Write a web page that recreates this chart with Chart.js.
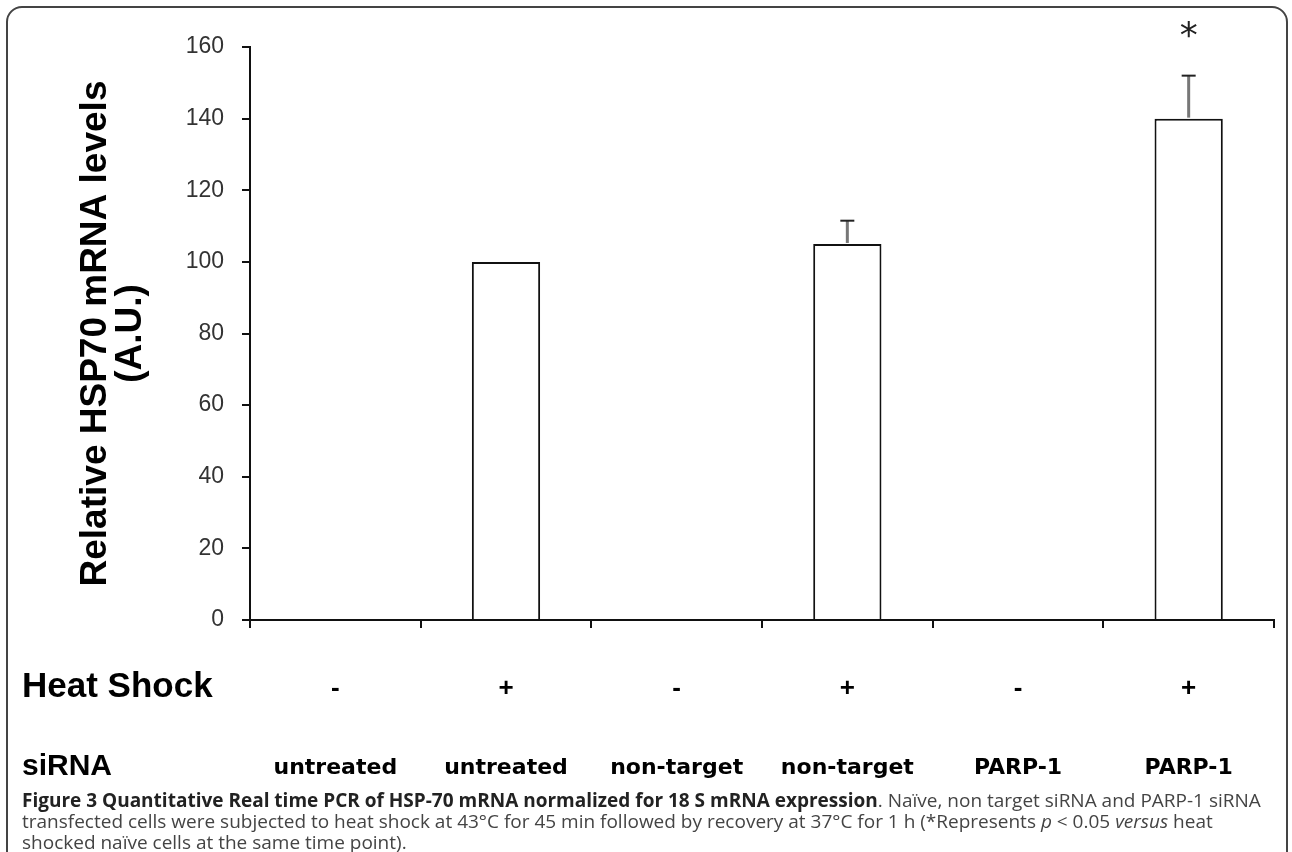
<!DOCTYPE html>
<html>
<head>
<meta charset="utf-8">
<script src="https://cdn.jsdelivr.net/npm/chart.js@4"></script>
<style>
	body { margin: 0; background: #fff; overflow: hidden; }
	#frame { position: absolute; left: 6px; top: 6px; width: 1282px; height: 862px; box-sizing: border-box; border: 2px solid #444; border-radius: 16px; }
	#plot { position: absolute; left: 0; top: 0; }
	#caption { position: absolute; left: 22px; top: 790px; width: 1255px; font: 19px 'Open Sans', sans-serif; line-height: 21px; color: #444; white-space: nowrap; }
	#caption b { color: #222; }
</style>
</head>
<body>
<div id="frame"></div>
<canvas id="plot" width="1292" height="793"></canvas>
<div id="caption">
	<b>Figure 3 Quantitative Real time PCR of HSP-70 mRNA normalized for 18 S mRNA expression</b>. Naïve, non target siRNA and PARP-1 siRNA<br>
	transfected cells were subjected to heat shock at 43°C for 45 min followed by recovery at 37°C for 1 h (*Represents <i>p</i> &lt; 0.05 <i>versus</i> heat<br>
	shocked naïve cells at the same time point).
</div>
<script>
// values
const heatShock = ['-', '+', '-', '+', '-', '+'];
const siRNA = ['untreated', 'untreated', 'non-target', 'non-target', 'PARP-1', 'PARP-1'];
const mRNA = [null, 100, null, 105, null, 140];
const errUp = [0, 0, 0, 6.5, 0, 12];
const marks = ['', '', '', '', '', '*'];
const yMax = 160;
const yStep = 20;

// error bars + significance star
const errorBars = {
	id: 'errorBars',
	afterDatasetsDraw(chart) {
		const ctx = chart.ctx;
		const y = chart.scales.y;
		chart.getDatasetMeta(0).data.forEach((bar, i) => {
			if (mRNA[i] == null) return;
			const top = y.getPixelForValue(mRNA[i] + errUp[i]);
			if (errUp[i]) {
				ctx.save();
				ctx.strokeStyle = '#777';
				ctx.lineWidth = 3;
				ctx.beginPath();
				ctx.moveTo(bar.x, bar.y - 1);
				ctx.lineTo(bar.x, top);
				ctx.stroke();
				ctx.strokeStyle = '#222';
				ctx.lineWidth = 2;
				ctx.beginPath();
				ctx.moveTo(bar.x - 7, top);
				ctx.lineTo(bar.x + 7, top);
				ctx.stroke();
				ctx.restore();
			}
			if (marks[i]) {
				ctx.save();
				ctx.fillStyle = '#222';
				ctx.font = '36px "DejaVu Sans"';
				ctx.textAlign = 'center';
				ctx.textBaseline = 'middle';
				ctx.fillText(marks[i], bar.x, top - 38);
				ctx.restore();
			}
		});
	}
};

// row names on the left of the two label rows
const rowTitles = {
	id: 'rowTitles',
	afterDraw(chart) {
		const ctx = chart.ctx;
		const x = chart.scales.x;
		const x2 = chart.scales.x2;
		ctx.save();
		ctx.fillStyle = '#000';
		ctx.textBaseline = 'middle';
		ctx.font = 'bold 35px "Liberation Sans"';
		ctx.fillText('Heat Shock', 22, x.top + 8 + 45 + 14);
		ctx.font = 'bold 30px "Liberation Sans"';
		ctx.fillText('siRNA', 22, x2.top + 49 + 13);
		ctx.restore();
	}
};

new Chart(document.getElementById('plot'), {
	type: 'bar',
	data: {
		labels: heatShock,
		datasets: [{
			data: mRNA,
			backgroundColor: '#fff',
			borderColor: '#111',
			borderWidth: 2,
			barPercentage: 0.4,
			categoryPercentage: 1
		}]
	},
	options: {
		responsive: false,
		animation: false,
		devicePixelRatio: 1,
		layout: { padding: { left: 78, right: 18, top: 47, bottom: 5 } },
		plugins: { legend: { display: false }, tooltip: { enabled: false } },
		scales: {
			y: {
				min: 0,
				max: yMax,
				afterFit(s) { s.width = 172; },
				ticks: { stepSize: yStep, padding: 18, color: '#333', font: { family: 'Liberation Sans', size: 23 } },
				grid: { drawOnChartArea: false, tickLength: 8, color: '#111', lineWidth: 2 },
				border: { color: '#111', width: 2 },
				title: {
					display: true,
					text: ['Relative HSP70 mRNA levels', '(A.U.)'],
					color: '#000',
					font: { family: 'Liberation Sans', size: 37, weight: 'bold', lineHeight: 0.95 },
					padding: { top: 0, bottom: 0 }
				}
			},
			x: {
				afterFit(s) { s.height = 85; },
				ticks: { padding: 45, color: '#000', font: { family: 'Liberation Sans', size: 26, weight: 'bold' } },
				grid: { drawOnChartArea: false, tickLength: 8, color: '#111', lineWidth: 2 },
				border: { color: '#111', width: 2 }
			},
			x2: {
				type: 'category',
				labels: siRNA,
				position: 'bottom',
				afterFit(s) { s.height = 83; },
				ticks: { padding: 42, color: '#000', font: { family: 'DejaVu Sans', size: 22, weight: 'bold' } },
				grid: { display: false },
				border: { display: false }
			}
		}
	},
	plugins: [errorBars, rowTitles]
});
</script>
</body>
</html>
